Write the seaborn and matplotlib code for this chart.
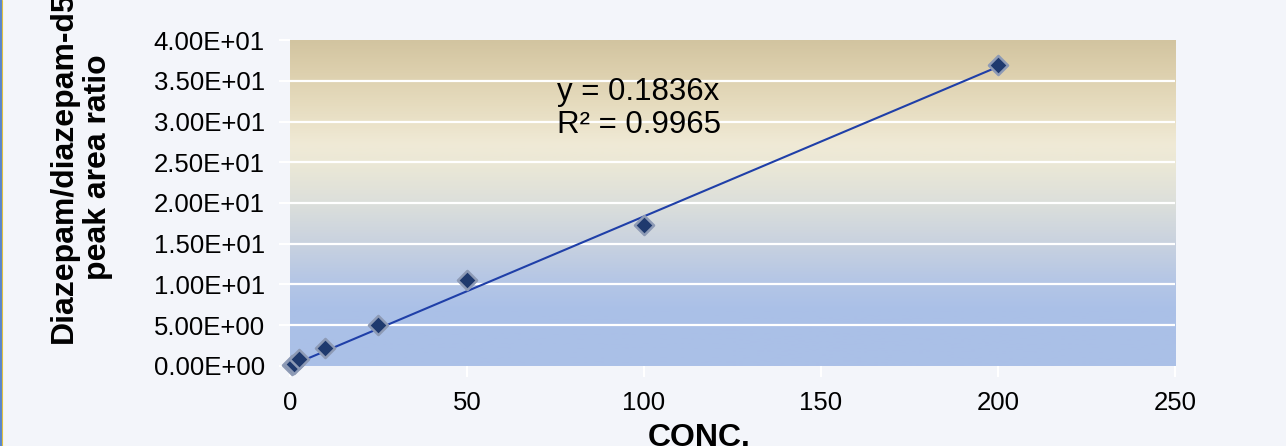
import numpy as np
import pandas as pd
import seaborn as sns
import matplotlib.pyplot as plt
from matplotlib.colors import LinearSegmentedColormap
from matplotlib.lines import Line2D

# calibration data
conc = [0.5, 1, 2.5, 10, 25, 50, 100, 200]
ratio = [0.08, 0.2, 0.85, 2.25, 5.05, 10.6, 17.3, 36.9]
slope = 0.1836
r2 = 0.9965
x_ticks = [0, 50, 100, 150, 200, 250]
y_ticks = [0, 5, 10, 15, 20, 25, 30, 35, 40]

df = pd.DataFrame({'conc': conc, 'ratio': ratio})
df['fit'] = slope * df['conc']

sns.set_style('white')
plt.rcParams['font.family'] = ['Liberation Sans', 'DejaVu Sans']
plt.rcParams['text.color'] = 'black'
plt.rcParams['axes.labelcolor'] = 'black'

fig = plt.figure(figsize=(12.86, 4.46), dpi=100, facecolor='#f3f5fa')
ax = fig.add_axes([0.2255, 0.1794, 0.6882, 0.7309])
ax.set_facecolor('#f3f5fa')

# gradient plot area (blue at bottom -> cream -> tan at top)
grad_cmap = LinearSegmentedColormap.from_list('excel_grad', [
    (0.00, '#abc0e7'),
    (0.17, '#aac0e8'),
    (0.27, '#b6c7e5'),
    (0.38, '#c9d2df'),
    (0.50, '#dcdfdb'),
    (0.62, '#ebe8d6'),
    (0.68, '#f0ead6'),
    (0.80, '#e6dcbf'),
    (0.90, '#ddd0ae'),
    (1.00, '#d2c4a0'),
])
grad = np.linspace(0, 1, 256).reshape(-1, 1)
ax.imshow(grad, extent=[0, 250, 0, 40], origin='lower', aspect='auto',
          cmap=grad_cmap, zorder=0)

for yv in y_ticks[1:-1]:
    ax.axhline(yv, color='white', lw=1.6, zorder=1)

sns.lineplot(data=df, x='conc', y='fit', ax=ax, color='#1f3fa8', lw=1.5,
             zorder=3, legend=False)
sns.scatterplot(data=df, x='conc', y='ratio', ax=ax, marker='D', s=95,
                color='#1f3a6e', edgecolor='#8d9ab5', linewidth=1.8,
                zorder=4, clip_on=False, legend=False)

ax.set_xlim(0, 250)
ax.set_ylim(0, 40)
ax.set_xticks(x_ticks)
ax.set_yticks(y_ticks)
ax.set_yticklabels([f'{v:.2E}' for v in y_ticks])
ax.tick_params(axis='both', labelsize=18.5, colors='white', labelcolor='black',
               length=8, width=1.5)
ax.tick_params(axis='y', pad=10, left=True)
ax.tick_params(axis='x', pad=10, bottom=True)
for sp in ax.spines.values():
    sp.set_visible(False)

ax.set_xlabel('CONC.', fontsize=23, fontweight='bold')
ax.xaxis.set_label_coords(0.462, -0.175)
ax.xaxis.label.set_va('top')
ax.set_ylabel('Diazepam/diazepam-d5\npeak area ratio', fontsize=23,
              fontweight='bold', linespacing=1.2)
ax.yaxis.set_label_coords(-0.2, 0.61)

ax.text(0.302, 0.885, f'y = {slope}x\nR² = {r2}', transform=ax.transAxes,
        fontsize=22.5, va='top', ha='left', linespacing=1.12)

# thin frame edge on the left of the slide
fig.add_artist(Line2D([0.0008, 0.0008], [0, 1], color='#3a6fc4', lw=1.2,
                      transform=fig.transFigure))
fig.add_artist(Line2D([0.0018, 0.0018], [0, 1], color='#e0c040', lw=0.8,
                      transform=fig.transFigure))

fig.savefig('out.png', dpi=100, facecolor=fig.get_facecolor())
